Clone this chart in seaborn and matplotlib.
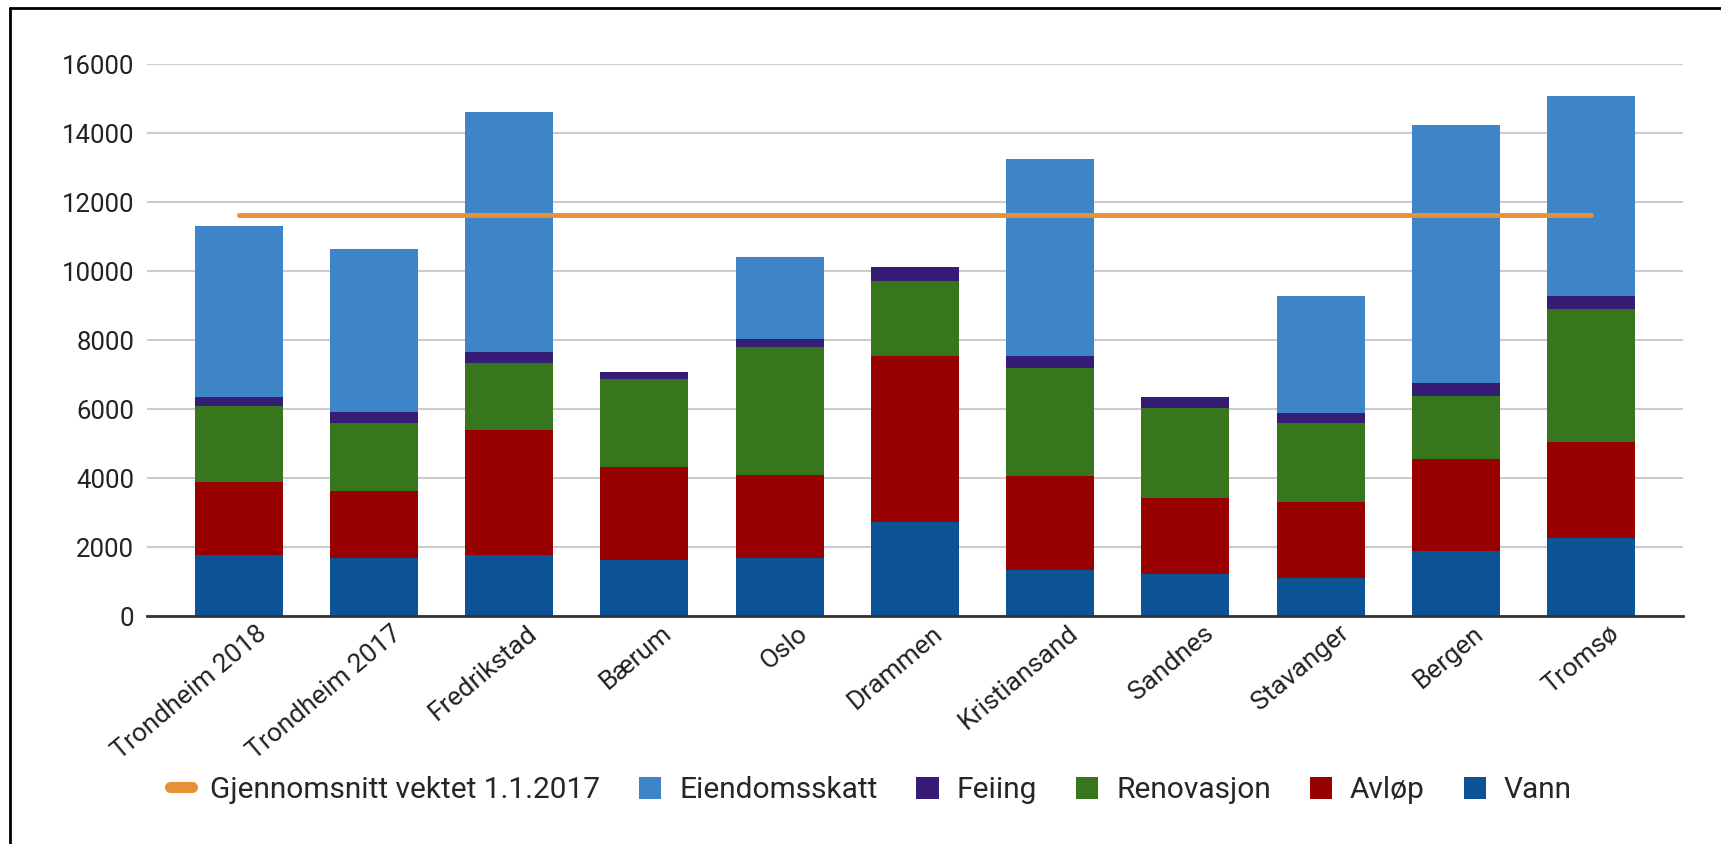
import numpy as np
import pandas as pd
import matplotlib
matplotlib.use("Agg")
import matplotlib.pyplot as plt
import matplotlib.transforms as mtransforms
from matplotlib.lines import Line2D
import seaborn as sns

# data (kr per year)
kommuner = ["Trondheim 2018", "Trondheim 2017", "Fredrikstad", "Bærum", "Oslo", "Drammen",
            "Kristiansand", "Sandnes", "Stavanger", "Bergen", "Tromsø"]
vann = [1780, 1680, 1780, 1640, 1680, 2740, 1330, 1210, 1100, 1890, 2250]
avlop = [2110, 1950, 3620, 2670, 2410, 4800, 2720, 2210, 2210, 2670, 2790]
renovasjon = [2200, 1980, 1940, 2550, 3720, 2160, 3130, 2620, 2300, 1820, 3870]
feiing = [270, 310, 320, 220, 210, 420, 360, 320, 270, 380, 370]
eiendomsskatt = [4960, 4710, 6950, 0, 2400, 0, 5710, 0, 3400, 7490, 5800]
snitt = [11640, 11640, 11640, 11640, 11640, 11640, 11640, 11640, 11640, 11640, 11640]

layers = [
    ("Vann", vann, "#0b5394"),
    ("Avløp", avlop, "#990000"),
    ("Renovasjon", renovasjon, "#38761d"),
    ("Feiing", feiing, "#351c75"),
    ("Eiendomsskatt", eiendomsskatt, "#3d85c6"),
]
snitt_label = "Gjennomsnitt vektet 1.1.2017"

sns.set_style("white")
plt.rcParams["font.family"] = ["Roboto", "DejaVu Sans"]

fig = plt.figure(figsize=(17.21, 8.44), dpi=100)
ax = fig.add_axes([0.0852, 0.270, 0.978 - 0.0852, 0.924 - 0.270])

bottom = np.zeros(len(kommuner))
for name, vals, col in layers:
    sns.barplot(x=kommuner, y=vals, bottom=bottom, color=col, saturation=1,
                width=0.65, linewidth=0, label=name, ax=ax)
    bottom += np.array(vals)

df_snitt = pd.DataFrame({"kommune": kommuner, "snitt": snitt})
sns.lineplot(data=df_snitt, x="kommune", y="snitt", sort=False, color="#e69138",
             linewidth=3.5, label=snitt_label, ax=ax)

ax.set_xlim(-0.68, 10.68)
ax.set_ylim(0, 16000)
ax.set_yticks(range(0, 16001, 2000))
ax.set_xlabel("")
ax.set_ylabel("")
ax.yaxis.grid(True, color="#cccccc", linewidth=1.5)
ax.set_axisbelow(True)
for s in ["top", "right", "left"]:
    ax.spines[s].set_visible(False)
ax.spines["bottom"].set_color("#333333")
ax.spines["bottom"].set_linewidth(2)
ax.spines["bottom"].set_zorder(3)
ax.tick_params(axis="both", length=0, colors="#222222")
ax.tick_params(axis="y", labelsize=18.5, pad=9)
ax.tick_params(axis="x", labelsize=19)

# rotated category labels, nudged a bit to the right like the original
offset = mtransforms.ScaledTranslation(17 / 100, 0, fig.dpi_scale_trans)
for lab in ax.get_xticklabels():
    lab.set_rotation(40)
    lab.set_ha("right")
    lab.set_va("top")
    lab.set_rotation_mode("anchor")
    lab.set_transform(lab.get_transform() + offset)

handles, labels = ax.get_legend_handles_labels()
lookup = dict(zip(labels, handles))
order = [snitt_label, "Eiendomsskatt", "Feiing", "Renovasjon", "Avløp", "Vann"]
leg = fig.legend([lookup[k] for k in order], order, loc="center", bbox_to_anchor=(0.506, 0.064),
                 ncol=6, frameon=False, fontsize=21.5, handlelength=0.75, handleheight=0.75,
                 handletextpad=0.6, columnspacing=1.3)
if ax.legend_:
    ax.legend_.remove()
for ln in leg.get_lines():
    ln.set_linewidth(8)
    ln.set_solid_capstyle("round")

# outer frame (left and top edges visible in the original)
fig.add_artist(Line2D([10 / 1721, 10 / 1721], [0, 1 - 8 / 844], transform=fig.transFigure,
                      color="black", linewidth=2))
fig.add_artist(Line2D([10 / 1721, 1], [1 - 8 / 844, 1 - 8 / 844], transform=fig.transFigure,
                      color="black", linewidth=2))

fig.savefig("out.png", dpi=100, facecolor="white")
